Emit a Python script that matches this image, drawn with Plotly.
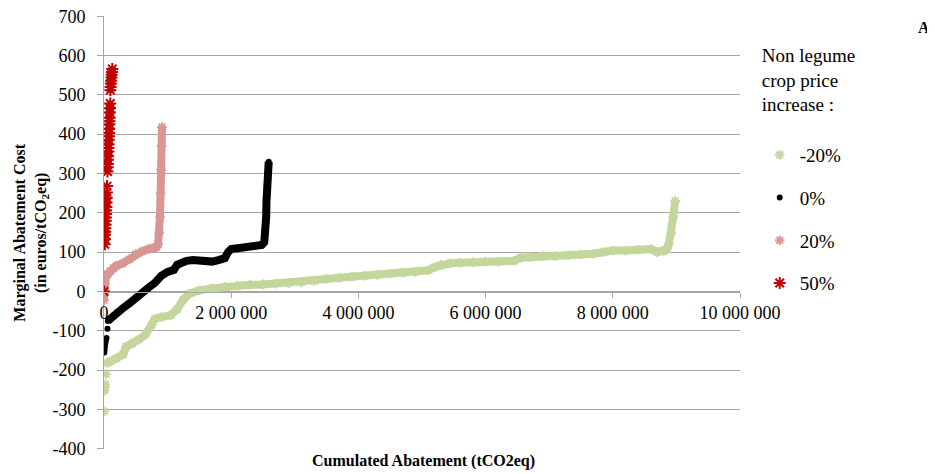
import plotly.graph_objects as go

# ---- data (x in thousand tCO2eq, y in euros/tCO2eq) ----
series_names = ["-20%", "0%", "20%", "50%"]

green_x = [0, 10, 15, 20, 30, 50, 100, 200, 300, 350, 450, 550, 650, 750, 800, 900, 1050,
           1150, 1250, 1350, 1500, 1700, 1900, 2100, 2300, 2500, 2700, 2900, 3100, 3300,
           3500, 3700, 3900, 4100, 4300, 4500, 4700, 4900, 5100, 5200, 5300, 5450, 5600,
           5800, 6000, 6200, 6450, 6550, 6700, 6900, 7100, 7300, 7500, 7700, 7850, 8000,
           8200, 8400, 8600, 8700, 8800, 8850, 8880, 8920, 8950, 8980]
green_y = [-305, -252, -243, -236, -210, -182, -178, -170, -160, -140, -132, -122, -110, -85,
           -70, -65, -60, -45, -20, -5, 3, 8, 12, 15, 17, 18, 20, 21, 23, 27,
           32, 35, 38, 40, 42, 45, 48, 50, 54, 62, 68, 72, 73,
           74, 76, 76, 78, 86, 88, 90, 90, 92, 94, 96, 100, 104,
           104, 106, 108, 100, 102, 108, 120, 150, 190, 230]

black_x = [5, 10, 15, 20, 25, 30, 40, 55, 60, 80, 100, 150, 200, 300, 400, 500, 600, 700,
           800, 900, 1000, 1100, 1150, 1200, 1300, 1400, 1500, 1600, 1700, 1800, 1900,
           1950, 2000, 2100, 2200, 2300, 2400, 2480, 2520, 2540, 2550, 2555, 2560, 2570,
           2580, 2590]
black_y = [-155, -148, -140, -133, -128, -122, -118, -95, -75, -72, -68, -60, -52, -42, -30,
           -15, -5, 10, 22, 40, 50, 55, 68, 73, 78, 80, 78, 76, 76, 80, 85,
           100, 108, 110, 112, 116, 115, 118, 125, 150, 190, 230, 270, 300,
           315, 330]

pink_x = [0, 8, 15, 25, 60, 100, 150, 200, 300, 400, 500, 600, 700, 760, 820, 850, 870,
          880, 890, 898, 905, 912]
pink_y = [-22, 0, 20, 35, 45, 52, 60, 66, 72, 82, 95, 102, 108, 110, 112, 120, 150,
          190, 250, 310, 370, 418]

red_x = [0, 12, 15, 18, 20, 22, 25, 28, 30, 33, 35, 38, 40, 42, 45, 47,
         55, 58, 60, 62, 65, 68, 70, 72, 75, 78, 80, 82, 85, 88, 90, 92, 95, 98,
         100, 104, 108, 112, 116, 120, 125, 130]
red_y = [0, 120, 133, 145, 152, 161, 170, 180, 188, 197, 206, 215, 226, 238, 252, 268,
         305, 316, 324, 335, 344, 356, 365, 374, 386, 395, 403, 414, 425, 433, 442, 455,
         466, 478, 512, 520, 529, 536, 544, 551, 558, 566]

y_tick_values = [-400, -300, -200, -100, 0, 100, 200, 300, 400, 500, 600, 700]
y_tick_labels = ["-400", "-300", "-200", "-100", "0", "100", "200", "300", "400", "500",
                 "600", "700"]
x_tick_values = [0, 2000000, 4000000, 6000000, 8000000, 10000000]
x_tick_labels = ["0", "2 000 000", "4 000 000", "6 000 000", "8 000 000", "10 000 000"]

colors = ["#C3D69B", "#000000", "#D99694", "#C00000"]
GRID = "#A6A6A6"
FONT = "Liberation Serif, Times New Roman, serif"

fig = go.Figure()

def kx(v):
    return [a * 1000 for a in v]

# green: isolated points at start, then continuous band
g_start = 5
fig.add_trace(go.Scatter(x=kx(green_x[g_start:]), y=green_y[g_start:], mode="lines",
                         line=dict(color=colors[0], width=8), legendgroup="g",
                         showlegend=False, hoverinfo="skip"))
fig.add_trace(go.Scatter(x=kx(green_x), y=green_y, mode="markers", name=series_names[0],
                         legendgroup="g",
                         marker=dict(symbol="asterisk-open", size=8, color=colors[0],
                                     line=dict(color=colors[0], width=2))))

b_start = 8
fig.add_trace(go.Scatter(x=kx(black_x[b_start:]), y=black_y[b_start:], mode="lines",
                         line=dict(color=colors[1], width=8), legendgroup="b",
                         showlegend=False, hoverinfo="skip"))
fig.add_trace(go.Scatter(x=kx(black_x), y=black_y, mode="markers", name=series_names[1],
                         legendgroup="b",
                         marker=dict(symbol="circle", size=6, color=colors[1])))

fig.add_trace(go.Scatter(x=kx(pink_x), y=pink_y, mode="lines",
                         line=dict(color=colors[2], width=8), legendgroup="p",
                         showlegend=False, hoverinfo="skip"))
fig.add_trace(go.Scatter(x=kx(pink_x), y=pink_y, mode="markers", name=series_names[2],
                         legendgroup="p",
                         marker=dict(symbol="asterisk-open", size=8, color=colors[2],
                                     line=dict(color=colors[2], width=2))))

fig.add_trace(go.Scatter(x=kx(red_x), y=red_y, mode="markers", name=series_names[3],
                         legendgroup="r",
                         marker=dict(symbol="asterisk-open", size=10, color=colors[3],
                                     line=dict(color=colors[3], width=2))))

# the page body adds an 8px margin, so the figure is sized 8px smaller and shifted
fig.update_layout(
    template="none",
    width=927, height=466,
    margin=dict(l=96, r=195, t=8, b=25, autoexpand=False),
    paper_bgcolor="white", plot_bgcolor="white",
    font=dict(family=FONT, color="black", size=18),
    showlegend=True,
    legend=dict(
        x=1.031, y=0.951, xanchor="left", yanchor="top",
        font=dict(family=FONT, size=19, color="black"),
        title=dict(text="Non legume<br>crop price<br>increase :<br> ",
                   font=dict(family=FONT, size=19, color="black")),
        traceorder="grouped", tracegroupgap=15,
        itemsizing="trace", bgcolor="rgba(0,0,0,0)",
    ),
    xaxis=dict(
        range=[0, 10000000], tickvals=x_tick_values, ticktext=x_tick_labels,
        anchor="free", position=400 / 1100, automargin=False,
        showgrid=False, zeroline=False,
        showline=True, linecolor=GRID, linewidth=1,
        ticks="outside", ticklen=5, tickcolor=GRID,
        tickfont=dict(size=18, family=FONT, color="black"),
        ticklabelstandoff=0, ticklabeloverflow="allow",
    ),
    yaxis=dict(
        range=[-400.5, 700.5], tickvals=y_tick_values, ticktext=y_tick_labels,
        automargin=False,
        showgrid=True, gridcolor=GRID, gridwidth=1,
        zeroline=False,
        showline=True, linecolor=GRID, linewidth=1,
        ticks="outside", ticklen=6, tickcolor=GRID,
        tickfont=dict(size=18, family=FONT, color="black"),
        ticklabelstandoff=8, ticklabeloverflow="allow",
    ),
    annotations=[
        dict(text="<b>Marginal Abatement Cost<br>(in euros/tCO<sub>2</sub>eq)</b>",
             xref="paper", yref="paper", x=-0.116, y=0.5, textangle=-90,
             showarrow=False, font=dict(family=FONT, size=16, color="black"),
             xanchor="center", yanchor="middle"),
        dict(text="<b>Cumulated Abatement (tCO2eq)</b>",
             xref="paper", yref="paper", x=0.502, y=-0.027,
             showarrow=False, font=dict(family=FONT, size=16, color="black"),
             xanchor="center", yanchor="middle"),
        dict(text="<b>A</b>", xref="paper", yref="paper", x=1.290, y=0.974,
             showarrow=False, font=dict(family=FONT, size=16, color="black"),
             xanchor="center", yanchor="middle"),
    ],
)

fig.write_html("out.html")
